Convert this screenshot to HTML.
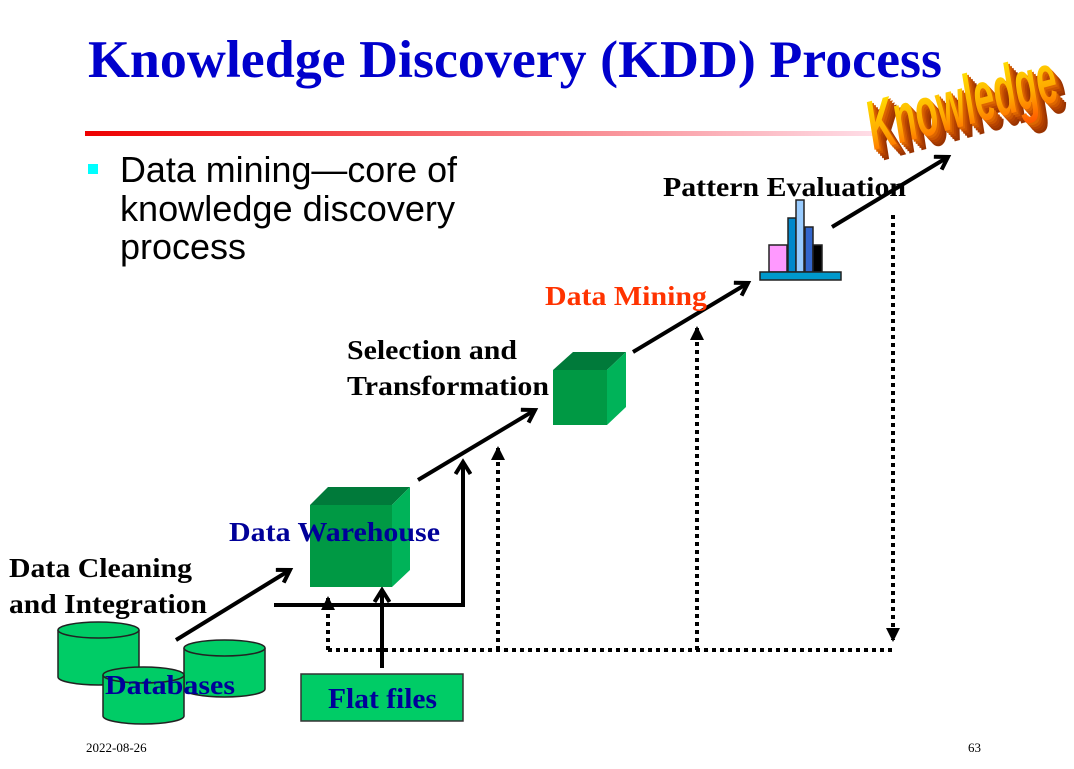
<!DOCTYPE html>
<html><head><meta charset="utf-8"><style>html,body{margin:0;padding:0;background:#fff}svg{display:block}</style></head>
<body>
<svg width="1074" height="769" viewBox="0 0 1074 769" xmlns="http://www.w3.org/2000/svg">
<defs>
<linearGradient id="rl" x1="0" x2="1" y1="0" y2="0"><stop offset="0" stop-color="#ee0000"/><stop offset="1" stop-color="#ffe0ea"/></linearGradient>
<linearGradient id="kg" x1="0" x2="0" y1="0" y2="1"><stop offset="0" stop-color="#ffee00"/><stop offset="0.6" stop-color="#ffaa00"/><stop offset="1" stop-color="#ff5500"/></linearGradient>
<marker id="oa" markerWidth="18" markerHeight="18" refX="14" refY="9" orient="auto" markerUnits="userSpaceOnUse" viewBox="0 0 18 18"><path d="M2,1.5 L14,9 L2,16.5" fill="none" stroke="#000" stroke-width="4"/></marker>
<marker id="ta" markerWidth="14" markerHeight="14" refX="12" refY="7" orient="auto" markerUnits="userSpaceOnUse"><path d="M0,0 L14,7 L0,14 z" fill="#000"/></marker>
</defs>

<text x="88" y="77" font-family="Liberation Serif, serif" font-weight="bold" font-size="53" fill="#0000cc" textLength="854" lengthAdjust="spacingAndGlyphs">Knowledge Discovery (KDD) Process</text>
<rect x="85" y="131" width="800" height="5" fill="url(#rl)"/>

<rect x="88" y="164" width="10" height="10" fill="#00ffff"/>
<g font-family="Liberation Sans, sans-serif" font-size="36" fill="#000">
<text x="120" y="182" textLength="337" lengthAdjust="spacingAndGlyphs">Data mining—core of</text>
<text x="120" y="221" textLength="335" lengthAdjust="spacingAndGlyphs">knowledge discovery</text>
<text x="120" y="259">process</text>
</g>

<!-- Knowledge 3D -->
<g transform="translate(874,150) rotate(-15) scale(0.65,1.25)" font-family="Liberation Sans Narrow, Liberation Sans, sans-serif" font-weight="bold" font-style="italic" font-size="56">
<text x="10" y="10" fill="#993300">Knowledge</text>
<text x="8" y="8" fill="#a83b00">Knowledge</text>
<text x="6" y="6" fill="#b84400">Knowledge</text>
<text x="4" y="4" fill="#cc5500">Knowledge</text>
<text x="2" y="2" fill="#dd6600">Knowledge</text>
<text x="0" y="0" fill="url(#kg)">Knowledge</text>
</g>

<!-- dotted lines -->
<g stroke="#000" stroke-width="4" stroke-dasharray="4,4" fill="none">
<path d="M328,650 L893,650"/>
<path d="M328,650 L328,598" marker-end="url(#ta)"/>
<path d="M498,650 L498,448" marker-end="url(#ta)"/>
<path d="M697,650 L697,328" marker-end="url(#ta)"/>
<path d="M893,215 L893,640" marker-end="url(#ta)"/>
</g>

<!-- solid lines -->
<g stroke="#000" stroke-width="4" fill="none">
<path d="M274,605 L463,605 L463,462" marker-end="url(#oa)"/>
<path d="M382,668 L382,590" marker-end="url(#oa)"/>
<path d="M176,640 L290,570" marker-end="url(#oa)"/>
<path d="M418,480 L535,410" marker-end="url(#oa)"/>
<path d="M633,352 L748,283" marker-end="url(#oa)"/>
<path d="M832,227 L948,157" marker-end="url(#oa)"/>
</g>

<!-- cube 1 -->
<polygon points="310,505 328,487 410,487 392,505" fill="#007a3a"/>
<polygon points="392,505 410,487 410,570 392,587" fill="#00b359"/>
<rect x="310" y="505" width="82" height="82" fill="#009944"/>
<!-- cube 2 -->
<polygon points="553,370 573,352 626,352 607,370" fill="#007a3a"/>
<polygon points="607,370 626,352 626,407 607,425" fill="#00b359"/>
<rect x="553" y="370" width="54" height="55" fill="#009944"/>

<!-- bar chart -->
<g stroke="#222" stroke-width="1.5">
<rect x="769" y="245" width="18" height="27" fill="#ff99ff"/>
<rect x="788" y="218" width="8" height="54" fill="#0088cc"/>
<rect x="796" y="200" width="8" height="72" fill="#99ccff"/>
<rect x="805" y="227" width="8" height="45" fill="#3366cc"/>
<rect x="813" y="245" width="9" height="27" fill="#000"/>
<rect x="760" y="272" width="81" height="8" fill="#0099cc"/>
</g>

<!-- databases -->
<g fill="#00cc66" stroke="#222" stroke-width="1.5">
<path d="M58,630 L58,677 A40.5,8 0 0 0 139,677 L139,630"/>
<ellipse cx="98.5" cy="630" rx="40.5" ry="8"/>
<path d="M184,648 L184,689 A40.5,8 0 0 0 265,689 L265,648"/>
<ellipse cx="224.5" cy="648" rx="40.5" ry="8"/>
<path d="M103,675 L103,716 A40.5,8 0 0 0 184,716 L184,675"/>
<ellipse cx="143.5" cy="675" rx="40.5" ry="8"/>
</g>

<rect x="301" y="674" width="162" height="47" fill="#00cc66" stroke="#333" stroke-width="1.5"/>

<g font-family="Liberation Serif, serif" font-weight="bold" font-size="27">
<text x="105" y="694" fill="#000099" textLength="130" lengthAdjust="spacingAndGlyphs">Databases</text>
<text x="328" y="708" fill="#000099" font-size="29" textLength="109" lengthAdjust="spacingAndGlyphs">Flat files</text>
<text x="9" y="577" fill="#000" textLength="183" lengthAdjust="spacingAndGlyphs">Data Cleaning</text>
<text x="9" y="613" fill="#000" textLength="198" lengthAdjust="spacingAndGlyphs">and Integration</text>
<text x="229" y="541" fill="#000099" textLength="211" lengthAdjust="spacingAndGlyphs">Data Warehouse</text>
<text x="347" y="359" fill="#000" textLength="170" lengthAdjust="spacingAndGlyphs">Selection and</text>
<text x="347" y="395" fill="#000" textLength="202" lengthAdjust="spacingAndGlyphs">Transformation</text>
<text x="545" y="305" fill="#ff3300" textLength="162" lengthAdjust="spacingAndGlyphs">Data Mining</text>
<text x="663" y="196" fill="#000" textLength="243" lengthAdjust="spacingAndGlyphs">Pattern Evaluation</text>
</g>

<g font-family="Liberation Serif, serif" font-size="13" fill="#000">
<text x="86" y="752">2022-08-26</text>
<text x="968" y="752">63</text>
</g>
</svg>
</body></html>
